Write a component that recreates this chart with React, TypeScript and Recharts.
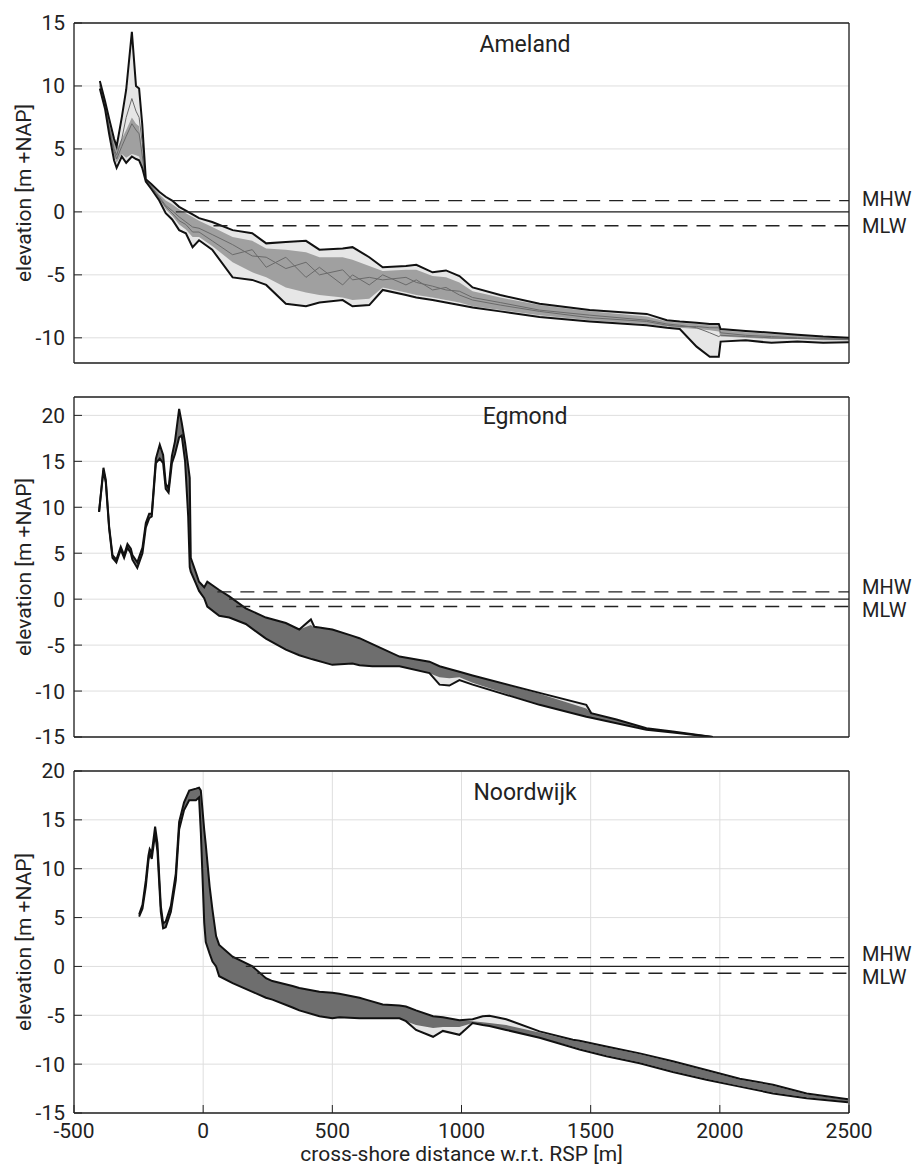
import React from 'react';
import {
  ComposedChart,
  Area,
  Line,
  XAxis,
  YAxis,
  CartesianGrid,
  ReferenceLine
} from 'recharts';

// cross-shore distance [m] and elevation [m +NAP]

// --- Ameland ---
const ameX = [
  -400, -380, -364, -345, -335, -315, -298, -276, -260, -248,
  -236, -222, -200, -170, -145, -120, -93, -67, -41, -16,
  35, 114, 190, 244, 320, 398, 450, 540, 578, 643,
  695, 785, 825, 888, 940, 992, 1043, 1150, 1302, 1496,
  1717, 1795, 1845, 1910, 1961, 1996, 2003, 2100, 2200, 2300,
  2400, 2500
];
const ameUpper = [
  10.4, 8.8, 7.4, 5.8, 5.2, 7.5, 9.7, 14.3, 10.0, 9.8,
  7.0, 2.6, 2.2, 1.6, 1.2, 0.9, 0.4, 0.1, -0.2, -0.5,
  -0.8, -1.45, -1.7, -2.5, -2.4, -2.3, -3.0, -2.9, -2.8, -3.6,
  -4.4, -4.3, -4.2, -4.8, -4.65, -5.1, -6.0, -6.6, -7.3, -7.8,
  -8.1, -8.6, -8.7, -8.8, -8.9, -8.9, -9.3, -9.45, -9.6, -9.75,
  -9.9, -10.0
];
const ameLower = [
  9.8, 8.2, 6.2, 4.1, 3.5, 4.4, 3.9, 4.4, 4.2, 4.1,
  3.5, 2.4, 1.8, 0.9, -0.1, -0.6, -1.45, -1.7, -2.8, -2.25,
  -3.0, -5.2, -5.4, -5.8, -7.3, -7.5, -7.2, -7.0, -7.5, -7.4,
  -6.2, -6.6, -6.8, -7.0, -7.2, -7.4, -7.6, -7.9, -8.35, -8.7,
  -9.0, -9.2, -9.3, -10.7, -11.5, -11.5, -10.3, -10.2, -10.4, -10.3,
  -10.4, -10.35
];
const ameCoreHi = [
  10.2, 8.6, 7.0, 5.6, 5.0, 5.8, 6.5, 7.5, 7.0, 6.8,
  5.0, 2.5, 2.1, 1.4, 0.9, 0.6, 0.2, -0.1, -0.4, -0.7,
  -1.2, -2.0, -2.3, -2.9, -3.0, -3.2, -3.6, -3.6, -3.8, -4.3,
  -4.7, -4.6, -4.6, -5.1, -5.2, -5.6, -6.3, -6.8, -7.4, -7.9,
  -8.3, -8.7, -8.8, -8.9, -9.0, -9.0, -9.4, -9.55, -9.7, -9.8,
  -9.95, -10.05
];
const ameCoreLo = [
  9.9, 8.3, 6.4, 4.4, 3.9, 4.6, 4.3, 4.6, 4.5, 4.4,
  3.6, 2.45, 1.9, 1.0, 0.2, -0.3, -1.0, -1.4, -2.0, -2.0,
  -2.7, -4.0, -4.8, -5.2, -6.0, -6.4, -6.6, -6.8, -7.0, -6.9,
  -6.0, -6.4, -6.6, -6.8, -7.0, -7.2, -7.5, -7.8, -8.2, -8.6,
  -8.9, -9.1, -9.2, -9.3, -9.4, -9.5, -9.9, -10.0, -10.1, -10.1,
  -10.2, -10.2
];
const ameProfileA = [
  10.1, 8.5, 6.8, 5.0, 4.5, 5.8, 7.5, 9.0, 8.0, 7.5,
  5.5, 2.5, 2.0, 1.2, 0.5, 0.1, -0.4, -0.8, -1.2, -1.3,
  -1.8, -2.6, -3.5, -3.6, -4.5, -4.0, -5.0, -4.6, -5.4, -5.2,
  -5.4, -5.2, -5.6, -5.9, -6.2, -6.3, -6.8, -7.2, -7.8, -8.2,
  -8.6, -8.9, -9.0, -9.2, -9.6, -9.9, -9.8, -9.9, -10.0, -10.05,
  -10.1, -10.15
];
const ameProfileB = [
  10.0, 8.4, 6.6, 4.8, 4.2, 5.2, 6.0, 7.0, 6.5, 6.2,
  4.5, 2.45, 1.95, 1.1, 0.4, -0.1, -0.7, -1.0, -1.6, -1.6,
  -2.3, -3.4, -3.0, -4.4, -3.6, -5.2, -4.4, -5.8, -5.0, -5.8,
  -5.0, -5.8, -5.4, -6.2, -6.0, -6.6, -7.0, -7.4, -7.9, -8.4,
  -8.7, -9.0, -9.1, -9.1, -9.2, -9.2, -9.6, -9.8, -9.9, -10.0,
  -10.05, -10.1
];

// --- Egmond ---
const egmX = [
  -403, -386, -377, -364, -351, -336, -319, -306, -293, -280,
  -274, -255, -235, -222, -209, -199, -183, -168, -155, -145,
  -134, -121, -109, -93, -83, -70, -58, -52, -48, -28,
  -16, 4, 16, 62, 101, 165, 243, 320, 372, 417,
  430, 500, 578, 605, 655, 760, 876, 915, 953, 992,
  1043, 1302, 1483, 1502, 1600, 1716, 1818, 1973
];
const egmUpper = [
  9.5, 14.3, 13.0, 7.9, 4.8, 4.3, 5.7, 4.8, 6.0, 5.5,
  4.8, 4.0, 5.6, 8.3, 9.3, 9.3, 15.3, 16.8, 15.7, 12.6,
  12.0, 15.6, 17.2, 20.7, 19.2, 17.0, 14.5, 13.2, 4.5, 2.9,
  1.9, 1.3, 1.9, 1.0, 0.3, -1.0, -2.0, -2.6, -3.3, -2.2,
  -3.0, -3.3, -4.0, -4.25, -4.9, -6.25, -6.8, -7.3, -7.6, -7.9,
  -8.3, -10.2, -11.5, -12.4, -13.1, -14.05, -14.4, -15.0
];
const egmLower = [
  9.5, 14.0, 12.7, 7.7, 4.5, 4.0, 5.4, 4.5, 5.6, 5.0,
  4.3, 3.4, 5.0, 7.8, 8.8, 9.0, 14.8, 15.3, 14.8, 12.0,
  11.6, 14.8, 15.8, 17.6, 17.8, 15.0, 9.0, 3.5, 3.0, 1.7,
  0.9, 0.1, -0.8, -1.8, -2.0, -2.7, -4.3, -5.5, -6.1, -6.5,
  -6.6, -7.15, -7.0, -7.2, -7.3, -7.3, -8.05, -9.3, -9.4, -8.8,
  -9.3, -11.5, -12.8, -12.9, -13.5, -14.2, -14.5, -15.0
];
const egmCoreHi = [
  9.5, 14.3, 13.0, 7.9, 4.8, 4.3, 5.7, 4.8, 6.0, 5.5,
  4.8, 4.0, 5.6, 8.3, 9.3, 9.3, 15.3, 16.8, 15.7, 12.6,
  12.0, 15.6, 17.2, 20.7, 19.2, 17.0, 14.5, 13.2, 4.5, 2.9,
  1.9, 1.3, 1.9, 1.0, 0.3, -1.0, -2.0, -2.6, -3.3, -2.8,
  -3.1, -3.3, -4.0, -4.25, -4.9, -6.25, -6.8, -7.3, -7.6, -7.9,
  -8.3, -10.3, -11.9, -12.4, -13.1, -14.05, -14.4, -15.0
];
const egmCoreLo = [
  9.5, 14.0, 12.7, 7.7, 4.5, 4.0, 5.4, 4.5, 5.6, 5.0,
  4.3, 3.4, 5.0, 7.8, 8.8, 9.0, 14.8, 15.3, 14.8, 12.0,
  11.6, 14.8, 15.8, 17.6, 17.8, 15.0, 9.0, 3.5, 3.0, 1.7,
  0.9, 0.1, -0.8, -1.8, -2.0, -2.7, -4.3, -5.5, -6.1, -6.5,
  -6.6, -7.15, -7.0, -7.2, -7.3, -7.3, -8.05, -8.5, -8.6, -8.5,
  -9.1, -11.5, -12.8, -12.9, -13.5, -14.2, -14.5, -15.0
];

// --- Noordwijk ---
const nooX = [
  -248, -235, -222, -212, -207, -199, -186, -177, -164, -155,
  -145, -125, -106, -93, -74, -54, -28, -16, -9, 4,
  10, 25, 36, 50, 62, 114, 191, 243, 268, 346,
  372, 450, 500, 527, 605, 630, 695, 760, 785, 824,
  890, 928, 992, 1043, 1082, 1108, 1173, 1302, 1431, 1457,
  1561, 1690, 1818, 1948, 2077, 2206, 2336, 2496
];
const nooUpper = [
  5.3, 6.3, 8.8, 11.3, 12.0, 11.6, 14.3, 12.6, 6.2, 4.4,
  4.6, 6.2, 9.5, 14.8, 16.8, 18.0, 18.2, 18.3, 18.0, 14.0,
  12.5, 8.2, 5.8, 3.1, 2.2, 1.0, 0.0, -1.2, -1.5, -2.0,
  -2.2, -2.6, -2.7, -2.8, -3.2, -3.4, -3.9, -4.0, -4.1, -4.5,
  -5.1, -5.2, -5.5, -5.4, -5.1, -5.05, -5.4, -6.65, -7.5, -7.6,
  -8.2, -8.9, -9.7, -10.6, -11.5, -12.1, -13.0, -13.6
];
const nooLower = [
  5.1, 5.9, 8.2, 10.8, 11.6, 11.0, 13.6, 11.8, 5.6, 3.9,
  4.0, 5.6, 8.8, 14.0, 16.0, 17.0, 17.0, 17.3, 13.7, 4.5,
  2.5, 1.3, 0.5, 0.0, -1.0, -1.7, -2.6, -3.2, -3.4, -4.2,
  -4.5, -5.1, -5.3, -5.2, -5.3, -5.3, -5.3, -5.3, -5.6, -6.5,
  -7.2, -6.6, -7.0, -5.8, -6.0, -6.1, -6.5, -7.3, -8.3, -8.5,
  -9.2, -9.9, -10.8, -11.6, -12.3, -13.0, -13.5, -13.9
];
const nooCoreHi = [
  5.3, 6.3, 8.8, 11.3, 12.0, 11.6, 14.3, 12.6, 6.2, 4.4,
  4.6, 6.2, 9.5, 14.8, 16.8, 18.0, 18.2, 18.3, 18.0, 14.0,
  12.5, 8.2, 5.8, 3.1, 2.2, 1.0, 0.0, -1.2, -1.5, -2.0,
  -2.2, -2.6, -2.7, -2.8, -3.2, -3.4, -3.9, -4.0, -4.1, -4.5,
  -5.1, -5.2, -5.5, -5.6, -5.7, -5.8, -6.0, -6.75, -7.6, -7.7,
  -8.3, -9.0, -9.8, -10.7, -11.6, -12.2, -13.1, -13.65
];
const nooCoreLo = [
  5.1, 5.9, 8.2, 10.8, 11.6, 11.0, 13.6, 11.8, 5.6, 3.9,
  4.0, 5.6, 8.8, 14.0, 16.0, 17.0, 17.0, 17.3, 13.7, 4.5,
  2.5, 1.3, 0.5, 0.0, -1.0, -1.7, -2.6, -3.2, -3.4, -4.2,
  -4.5, -5.1, -5.3, -5.2, -5.3, -5.3, -5.3, -5.3, -5.6, -6.0,
  -6.3, -6.2, -6.2, -5.8, -6.0, -6.1, -6.5, -7.3, -8.2, -8.4,
  -9.1, -9.8, -10.7, -11.5, -12.2, -12.9, -13.4, -13.85
];

// axes
const xTicks = [-500, 0, 500, 1000, 1500, 2000, 2500];
const ameYTicks = [-10, -5, 0, 5, 10, 15];
const egmYTicks = [-15, -10, -5, 0, 5, 10, 15, 20];
const nooYTicks = [-15, -10, -5, 0, 5, 10, 15, 20];

// tide levels: MHW, NAP 0, MLW and where each line starts
const tideNames = ['MHW', '', 'MLW'];
const ameTideLevels = [0.9, 0, -1.1];
const ameTideStart = [-120, -106, 40];
const egmTideLevels = [0.8, 0, -0.8];
const egmTideStart = [55, 100, 128];
const nooTideLevels = [0.9, 0, -0.7];
const nooTideStart = [112, 165, 210];

const FONT = 'Roboto, "Liberation Sans", Arial, sans-serif';
const INK = '#222222';

interface PanelProps {
  top: number;
  height: number;
  bottomMargin: number;
  x: number[];
  upper: number[];
  lower: number[];
  coreHi: number[];
  coreLo: number[];
  profiles: number[][];
  coreFill: string;
  yDomain: [number, number];
  yTicks: number[];
  tideLevels: number[];
  tideStart: number[];
  labelDy: number[];
  bottomAxis: boolean;
}

const Panel: React.FC<PanelProps> = ({
  top, height, bottomMargin, x, upper, lower, coreHi, coreLo, profiles, coreFill,
  yDomain, yTicks, tideLevels, tideStart, labelDy, bottomAxis
}) => {
  const rows = x.map((xv, i) => {
    const r: any = {
      x: xv,
      band: [lower[i], upper[i]],
      core: [coreLo[i], coreHi[i]],
      upper: upper[i],
      lower: lower[i]
    };
    profiles.forEach((p, k) => {
      r['p' + k] = p[i];
    });
    return r;
  });

  const tickStyle = { fontSize: 21, fill: INK, fontFamily: FONT };

  return (
    <div style={{ position: 'absolute', left: 0, top, width: 918, height }}>
      <ComposedChart
        width={918}
        height={height}
        data={rows}
        margin={{ top: 22, right: 68, bottom: bottomMargin, left: 0 }}
      >
        <CartesianGrid stroke="#dedede" strokeWidth={1} />
        <XAxis
          dataKey="x"
          type="number"
          domain={[-500, 2500]}
          ticks={xTicks}
          interval={0}
          allowDataOverflow
          height={bottomAxis ? 52 : 1}
          tick={bottomAxis ? tickStyle : false}
          tickSize={-8}
          tickMargin={18}
          tickLine={{ stroke: INK }}
          axisLine={{ stroke: INK, strokeWidth: 1.3 }}
          label={
            bottomAxis
              ? {
                  value: 'cross-shore distance w.r.t. RSP [m]',
                  position: 'insideBottom',
                  offset: 4,
                  style: { fontSize: 21, fill: INK, fontFamily: FONT }
                }
              : undefined
          }
        />
        <XAxis
          xAxisId="top"
          orientation="top"
          type="number"
          domain={[-500, 2500]}
          ticks={xTicks}
          interval={0}
          allowDataOverflow
          height={1}
          tick={false}
          tickSize={-8}
          tickLine={{ stroke: INK }}
          axisLine={{ stroke: INK, strokeWidth: 1.3 }}
        />
        <YAxis
          type="number"
          domain={yDomain}
          ticks={yTicks}
          interval={0}
          allowDataOverflow
          width={74}
          tick={tickStyle}
          tickSize={-8}
          tickMargin={17}
          tickLine={{ stroke: INK }}
          axisLine={{ stroke: INK, strokeWidth: 1.3 }}
          label={{
            value: 'elevation [m +NAP]',
            angle: -90,
            position: 'insideLeft',
            offset: 24,
            style: { textAnchor: 'middle', fontSize: 21, fill: INK, fontFamily: FONT }
          }}
        />
        <YAxis
          yAxisId="right"
          orientation="right"
          type="number"
          domain={yDomain}
          ticks={yTicks}
          interval={0}
          allowDataOverflow
          width={1}
          tick={false}
          tickSize={-8}
          tickLine={{ stroke: INK }}
          axisLine={{ stroke: INK, strokeWidth: 1.3 }}
        />
        <Area
          dataKey="band"
          type="linear"
          fill="#e6e6e6"
          fillOpacity={1}
          stroke="none"
          isAnimationActive={false}
        />
        <Area
          dataKey="core"
          type="linear"
          fill={coreFill}
          fillOpacity={1}
          stroke="none"
          isAnimationActive={false}
        />
        {profiles.map((_, k) => (
          <Line
            key={k}
            dataKey={'p' + k}
            type="linear"
            stroke="#6a6a6a"
            strokeWidth={1}
            dot={false}
            isAnimationActive={false}
          />
        ))}
        <Line
          dataKey="upper"
          type="linear"
          stroke="#111111"
          strokeWidth={2}
          dot={false}
          isAnimationActive={false}
        />
        <Line
          dataKey="lower"
          type="linear"
          stroke="#111111"
          strokeWidth={2}
          dot={false}
          isAnimationActive={false}
        />
        {tideLevels.map((lvl, k) => (
          <ReferenceLine
            key={'tide' + k}
            segment={[{ x: tideStart[k], y: lvl }, { x: 2500, y: lvl }]}
            stroke="#222222"
            strokeWidth={1.3}
            strokeDasharray={tideNames[k] ? '14 9' : undefined}
            ifOverflow="visible"
            label={
              tideNames[k]
                ? (p: any) => (
                    <text
                      x={p.viewBox.x + p.viewBox.width + 13}
                      y={p.viewBox.y + labelDy[k]}
                      dy="0.36em"
                      fontSize={20}
                      fill={INK}
                      fontFamily={FONT}
                    >
                      {tideNames[k]}
                    </text>
                  )
                : undefined
            }
          />
        ))}
      </ComposedChart>
    </div>
  );
};

const App: React.FC = () => {
  return (
    <div
      style={{
        position: 'absolute',
        left: 0,
        top: 0,
        width: 918,
        height: 1169,
        background: '#ffffff',
        fontFamily: FONT
      }}
    >
      <Panel
        top={0}
        height={380}
        bottomMargin={16}
        x={ameX}
        upper={ameUpper}
        lower={ameLower}
        coreHi={ameCoreHi}
        coreLo={ameCoreLo}
        profiles={[ameProfileA, ameProfileB]}
        coreFill="#a0a0a0"
        yDomain={[-12, 15]}
        yTicks={ameYTicks}
        tideLevels={ameTideLevels}
        tideStart={ameTideStart}
        labelDy={[-2, 0, 0]}
        bottomAxis={false}
      />
      <Panel
        top={374}
        height={380}
        bottomMargin={16}
        x={egmX}
        upper={egmUpper}
        lower={egmLower}
        coreHi={egmCoreHi}
        coreLo={egmCoreLo}
        profiles={[]}
        coreFill="#6e6e6e"
        yDomain={[-15, 22]}
        yTicks={egmYTicks}
        tideLevels={egmTideLevels}
        tideStart={egmTideStart}
        labelDy={[-5, 0, 3]}
        bottomAxis={false}
      />
      <Panel
        top={748}
        height={419}
        bottomMargin={2}
        x={nooX}
        upper={nooUpper}
        lower={nooLower}
        coreHi={nooCoreHi}
        coreLo={nooCoreLo}
        profiles={[]}
        coreFill="#6e6e6e"
        yDomain={[-15, 20]}
        yTicks={nooYTicks}
        tideLevels={nooTideLevels}
        tideStart={nooTideStart}
        labelDy={[-4, 0, 4]}
        bottomAxis={true}
      />
      <svg
        width={918}
        height={1169}
        style={{ position: 'absolute', left: 0, top: 0, pointerEvents: 'none' }}
      >
        <text x={525} y={52} textAnchor="middle" fontSize={23} fill={INK} fontFamily={FONT}>
          Ameland
        </text>
        <text x={525} y={424} textAnchor="middle" fontSize={23} fill={INK} fontFamily={FONT}>
          Egmond
        </text>
        <text x={525} y={800} textAnchor="middle" fontSize={23} fill={INK} fontFamily={FONT}>
          Noordwijk
        </text>
      </svg>
    </div>
  );
};

export default App;
